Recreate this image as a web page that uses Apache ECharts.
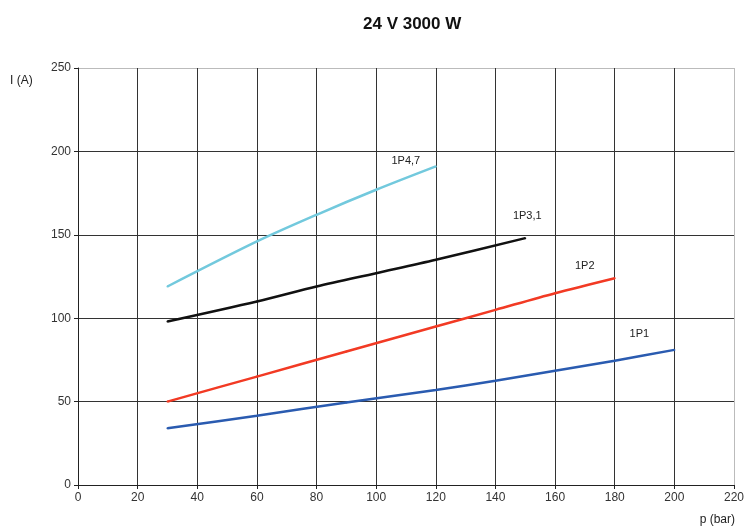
<!DOCTYPE html>
<html>
<head>
<meta charset="utf-8">
<script src="https://cdn.jsdelivr.net/npm/echarts@6/dist/echarts.min.js"></script>
<style>
  html, body { margin: 0; padding: 0; background: #fff; }
  #main { width: 747px; height: 530px; }
</style>
</head>
<body>
<div id="main"></div>
<script>
// pressure (bar) / current (A) readings per pump
const p1P1 = [30, 60, 90, 120, 140, 160, 180, 200];
const i1P1 = [34, 41.5, 49.5, 57, 62.5, 68.5, 74.5, 81];

const p1P2 = [30, 60, 90, 120, 140, 160, 180];
const i1P2 = [50, 65, 80, 95, 105, 115, 124];

const p1P31 = [30, 60, 80, 100, 120, 150];
const i1P31 = [98, 110, 119, 127, 135, 148];

const p1P47 = [30, 60, 80, 100, 120];
const i1P47 = [119, 146, 162, 177, 191];

const seriesNames = ['1P1', '1P2', '1P3,1', '1P4,7'];

const myChart = echarts.init(document.getElementById('main'));

function pairs(xs, ys) {
  return xs.map((x, k) => [x, ys[k]]);
}

// label sits near the end of each curve
function mkSeries(name, xs, ys, color, off) {
  const data = pairs(xs, ys);
  const last = data.length - 1;
  data[last] = {
    value: data[last],
    label: {
      show: true,
      formatter: name,
      position: 'inside',
      offset: off,
      color: '#222',
      fontSize: 11,
      fontFamily: 'Liberation Sans'
    }
  };
  return {
    name: name,
    type: 'line',
    smooth: 0.3,
    showSymbol: true,
    symbol: 'circle',
    symbolSize: 2,
    lineStyle: { color: color, width: 2.5 },
    itemStyle: { color: color },
    data: data
  };
}

const yGrid = ['#333', '#333', '#333', '#333', '#333', '#bbb'];
const xGrid = ['#333', '#333', '#333', '#333', '#333', '#333', '#333', '#333', '#333', '#333', '#333', '#bbb'];

const option = {
  backgroundColor: '#fff',
  animation: false,
  title: {
    text: '24 V 3000 W',
    left: 358,
    top: 11,
    textStyle: { fontSize: 17, fontWeight: 'bold', color: '#111', fontFamily: 'Liberation Sans' }
  },
  graphic: [
    { type: 'text', left: 10, top: 75, style: { text: 'I (A)', fontSize: 12, fill: '#222', fontFamily: 'Liberation Sans' } },
    { type: 'text', right: 12, top: 514, style: { text: 'p (bar)', fontSize: 12, fill: '#222', fontFamily: 'Liberation Sans' } }
  ],
  grid: { left: 78, right: 9, top: 68, bottom: 45, containLabel: false },
  xAxis: {
    type: 'value',
    min: 0,
    max: 220,
    interval: 20,
    axisLine: { lineStyle: { color: '#222', width: 1 } },
    axisTick: { show: true, length: 4, lineStyle: { color: '#222' } },
    axisLabel: { color: '#333', fontSize: 12, margin: 7, fontFamily: 'Liberation Sans' },
    splitLine: { show: true, lineStyle: { color: xGrid, width: 1 } }
  },
  yAxis: {
    type: 'value',
    min: 0,
    max: 250,
    interval: 50,
    axisLine: { show: true, lineStyle: { color: '#222', width: 1 } },
    axisTick: { show: true, length: 4, lineStyle: { color: '#222' } },
    axisLabel: { color: '#333', fontSize: 12, margin: 7, fontFamily: 'Liberation Sans' },
    splitLine: { show: true, lineStyle: { color: yGrid, width: 1 } }
  },
  series: [
    mkSeries(seriesNames[0], p1P1, i1P1, '#2a5bb0', [-35, -16]),
    mkSeries(seriesNames[1], p1P2, i1P2, '#f23a24', [-30, -12]),
    mkSeries(seriesNames[2], p1P31, i1P31, '#111111', [2, -22]),
    mkSeries(seriesNames[3], p1P47, i1P47, '#72c9dd', [-30, -5])
  ]
};

option && myChart.setOption(option);
</script>
</body>
</html>
